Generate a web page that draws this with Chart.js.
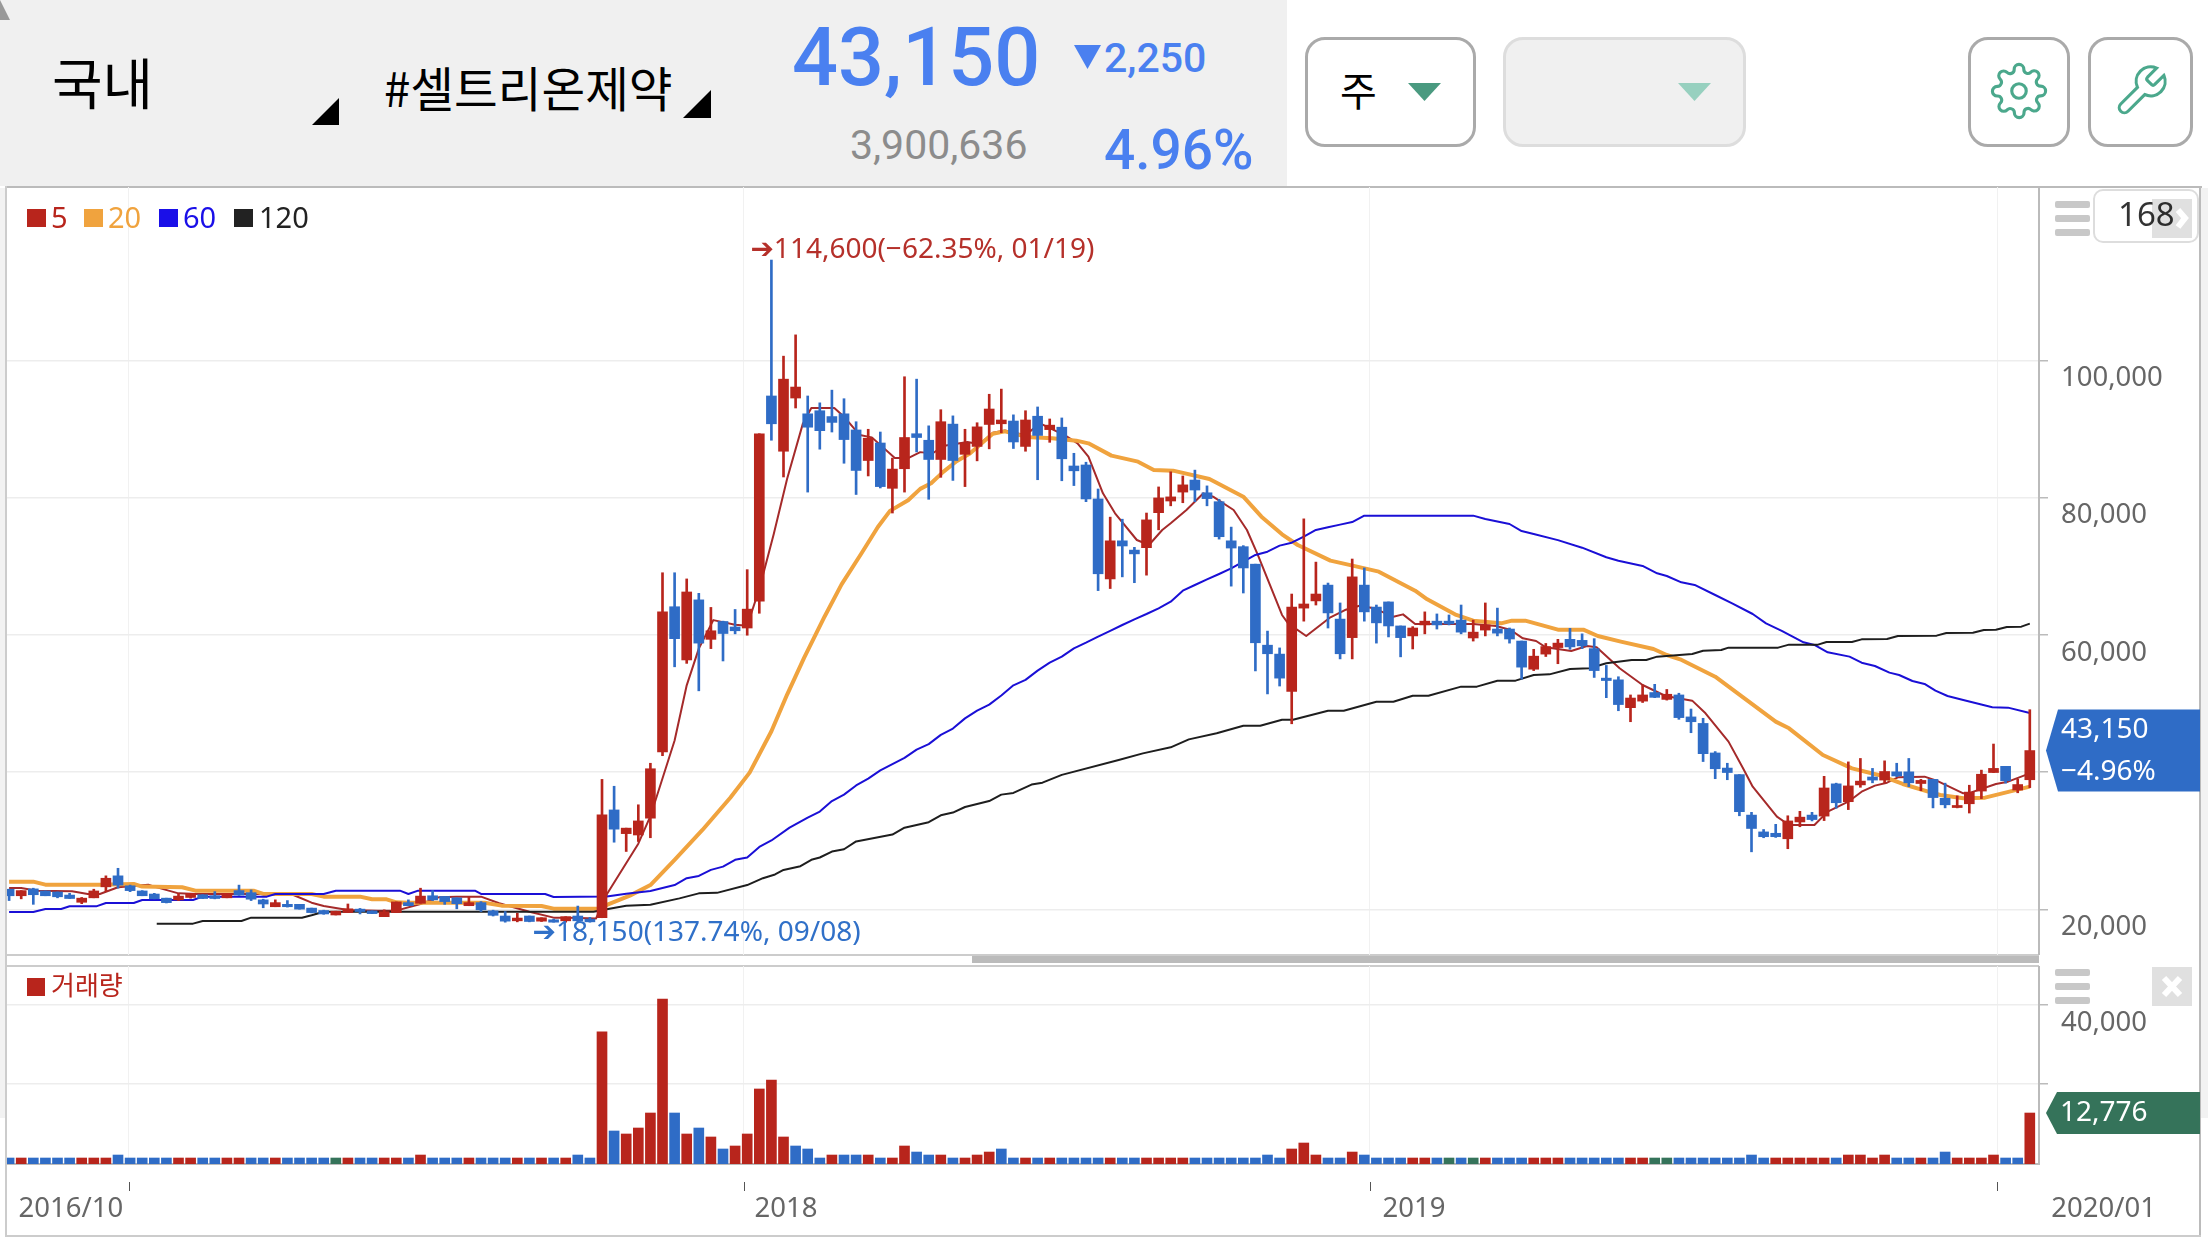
<!DOCTYPE html>
<html><head><meta charset="utf-8">
<script src="https://cdn.jsdelivr.net/npm/chart.js@4"></script>
<style>
html,body{margin:0;padding:0;width:2208px;height:1242px;overflow:hidden;background:#fff;font-family:"Noto Sans","Noto Sans CJK KR",sans-serif}
.a{position:absolute;white-space:nowrap;line-height:1}
.r{font-family:Roboto,sans-serif;color:#4a80f0;font-weight:500}
.k{font-family:"Noto Sans CJK KR",sans-serif;color:#000}
.btn{position:absolute;box-sizing:border-box;top:37px;height:110px;border:3px solid #aaa;border-radius:20px;background:#fff}
.ham{position:absolute;left:2055px;width:35px;height:7px;background:#c8c8c8;border-radius:2px}
canvas{position:absolute;display:block}
</style></head><body>
<div class="a" style="left:0;top:0;width:1287px;height:186px;background:#f0f0f0"></div>
<svg class="a" style="left:0;top:0" width="12" height="22"><polygon points="0,0 10,20 0,20" fill="#999"/></svg>
<div class="a k" style="left:52px;top:53px;font-size:55px">국내</div>
<svg class="a" style="left:312px;top:98px" width="28" height="28"><polygon points="27,0 27,27 0,27" fill="#000"/></svg>
<div class="a k" style="left:384px;top:63px;font-size:47.5px">#셀트리온제약</div>
<svg class="a" style="left:683px;top:90px" width="28" height="28"><polygon points="28,0 28,28 0,28" fill="#000"/></svg>
<div class="a r" style="left:792px;top:17px;font-size:81px">43,150</div>
<svg class="a" style="left:1074px;top:45px" width="27" height="24"><polygon points="0,0 27,0 13.5,24" fill="#4a80f0"/></svg>
<div class="a r" style="left:1104px;top:38px;font-size:41px">2,250</div>
<div class="a r" style="left:850px;top:125px;font-size:41px;color:#8c8c8c;font-weight:400">3,900,636</div>
<div class="a r" style="left:1104px;top:123px;font-size:55px">4.96%</div>
<div class="btn" style="left:1305px;width:171px"></div>
<div class="a k" style="left:1340px;top:69px;font-size:40px">주</div>
<svg class="a" style="left:1408px;top:83px" width="33" height="18"><polygon points="0,0 33,0 16.5,18" fill="#4a9a80"/></svg>
<div class="btn" style="left:1503px;width:243px;background:#f0f0f0;border-color:#ddd"></div>
<svg class="a" style="left:1678px;top:83px" width="33" height="18"><polygon points="0,0 33,0 16.5,18" fill="#97d0bf"/></svg>
<div class="btn" style="left:1968px;width:102px"></div>
<div class="btn" style="left:2088px;width:105px"></div>
<svg class="a" style="left:1990px;top:62px" width="58" height="58" viewBox="0 0 24 24" fill="none" stroke="#4ba88c" stroke-width="1.3"><circle cx="12" cy="12" r="3"/><path d="M19.4 15a1.65 1.65 0 0 0 .33 1.82l.06.06a2 2 0 0 1 0 2.83 2 2 0 0 1-2.83 0l-.06-.06a1.65 1.65 0 0 0-1.82-.33 1.65 1.65 0 0 0-1 1.51V21a2 2 0 0 1-2 2 2 2 0 0 1-2-2v-.09A1.65 1.65 0 0 0 9 19.4a1.65 1.65 0 0 0-1.82.33l-.06.06a2 2 0 0 1-2.83 0 2 2 0 0 1 0-2.83l.06-.06a1.65 1.65 0 0 0 .33-1.82 1.65 1.65 0 0 0-1.51-1H3a2 2 0 0 1-2-2 2 2 0 0 1 2-2h.09A1.65 1.65 0 0 0 4.6 9a1.65 1.65 0 0 0-.33-1.82l-.06-.06a2 2 0 0 1 0-2.83 2 2 0 0 1 2.83 0l.06.06a1.65 1.65 0 0 0 1.82.33H9a1.65 1.65 0 0 0 1-1.51V3a2 2 0 0 1 2-2 2 2 0 0 1 2 2v.09a1.65 1.65 0 0 0 1 1.51 1.65 1.65 0 0 0 1.82-.33l.06-.06a2 2 0 0 1 2.83 0 2 2 0 0 1 0 2.83l-.06.06a1.65 1.65 0 0 0-.33 1.82V9a1.65 1.65 0 0 0 1.51 1H21a2 2 0 0 1 2 2 2 2 0 0 1-2 2h-.09a1.65 1.65 0 0 0-1.51 1z"/></svg>
<svg class="a" style="left:2112px;top:62px" width="58" height="58" viewBox="0 0 24 24" fill="none" stroke="#4ba88c" stroke-width="1.3"><path d="M14.7 6.3a1 1 0 0 0 0 1.4l1.6 1.6a1 1 0 0 0 1.4 0l3.77-3.77a6 6 0 0 1-7.94 7.94l-6.91 6.91a2.12 2.12 0 0 1-3-3l6.91-6.91a6 6 0 0 1 7.94-7.94l-3.76 3.76z"/></svg>

<!-- frame -->
<div class="a" style="left:0;top:188px;width:5px;height:930px;background:#f2f2f2"></div>
<div class="a" style="left:2201px;top:188px;width:7px;height:930px;background:#f2f2f2"></div>
<div class="a" style="left:5px;top:186px;width:2197px;height:2px;background:#bbb"></div>
<div class="a" style="left:5px;top:186px;width:2px;height:1050px;background:#ccc"></div>
<div class="a" style="left:2199px;top:186px;width:2px;height:1050px;background:#bbb"></div>
<div class="a" style="left:5px;top:1235px;width:2196px;height:2px;background:#ccc"></div>
<div class="a" style="left:7px;top:954px;width:2032px;height:2px;background:#ccc"></div>
<div class="a" style="left:972px;top:956px;width:1067px;height:7px;background:#bbb"></div>
<div class="a" style="left:7px;top:965px;width:2032px;height:2px;background:#ccc"></div>

<canvas id="priceChart" width="2193" height="768" style="left:7px;top:187px;width:2193px;height:768px"></canvas>
<canvas id="volumeChart" width="2193" height="269" style="left:7px;top:966px;width:2193px;height:269px"></canvas>

<!-- panel controls -->
<div class="ham" style="top:201px"></div><div class="ham" style="top:215px"></div><div class="ham" style="top:229px"></div>
<div class="ham" style="top:969px"></div><div class="ham" style="top:983px"></div><div class="ham" style="top:997px"></div>
<div class="a" style="left:2093px;top:189px;width:106px;height:54px;box-sizing:border-box;border:2px solid #ddd;border-radius:10px"></div>
<svg class="a" style="left:2152px;top:199px" width="40" height="39"><rect width="40" height="39" fill="#e0e0e0"/><path d="M26 11 L33 19 L26 28" fill="none" stroke="#fff" stroke-width="6"/></svg>
<div class="a" style="left:2118px;top:197px;font-size:33px;color:#000;opacity:.8">168</div>
<svg class="a" style="left:2152px;top:967px" width="40" height="39"><rect width="40" height="39" fill="#e0e0e0"/><path d="M12 11 L28 28 M28 11 L12 28" stroke="#fff" stroke-width="6"/></svg>
<div id="legendPrice"></div>
<div id="legendVolume"></div>

<script>
const opens=[
22950,22000,23000,22700,22550,22100,21050,21700,23300,24900,
23450,22700,22250,21650,21400,21750,22150,22000,21700,22750,
22450,21400,20400,20750,20750,20200,19850,19200,19550,20050,
19800,18950,19550,21000,20900,22000,21900,21700,20550,21000,
19800,19050,18350,19050,18300,18500,18350,19050,18600,18800,
34500,31050,30850,33300,42950,64100,56350,65100,59350,61950,
61150,61000,64900,94800,86750,94500,92200,92650,91800,92200,
89850,85400,87950,81350,84200,89300,88350,85550,90700,86300,
87450,90650,90750,91150,87450,91850,89900,90250,84600,84750,
79800,68150,73700,72350,72700,77800,79500,80800,82550,80700,
79400,73700,72850,70300,58500,57200,51750,63900,64950,67250,
62300,59600,67250,64050,64800,61300,59850,61450,62000,62000,
62150,59550,60700,60850,60850,59100,55000,57200,58150,59350,
59200,58000,53700,53450,49400,50350,51600,50600,51250,48050,
47100,42800,40600,39650,33750,31300,31100,30300,32750,33750,
33600,38300,35700,38150,39300,38850,40050,40050,38350,38950,
36200,34850,35400,37250,39950,40850,37400,38900];
const closes=[
22000,22750,22150,22000,21850,21600,21650,22700,24550,23550,
22750,22000,21550,21000,21950,22350,21600,21600,22350,22100,
21500,20800,21000,20400,20050,19550,19350,19750,20100,19700,
19400,19700,21100,20550,21950,21400,21150,20850,21000,19950,
19150,18300,18750,18250,18800,18150,18950,18350,18200,33800,
31700,31850,32900,40500,63350,59450,66250,58800,60600,60200,
60600,63750,89300,90750,97250,96100,90250,89750,90950,88450,
83950,88650,81600,84150,88750,88750,85550,91050,85400,87950,
90300,92900,91300,88100,91300,89050,90550,85650,83900,79800,
68900,73700,72950,71800,76750,79950,80100,81850,81100,79850,
74300,72650,69750,58850,57250,53700,64050,64500,65950,63200,
57250,68450,63350,61750,61300,59600,61000,62000,61450,61600,
60400,60400,61450,60250,59400,55300,56900,58300,58800,58250,
58400,54800,53350,49850,50800,51250,50900,51350,47950,47350,
42700,40500,39950,34250,31800,30600,30600,32900,33450,33100,
37700,35550,38000,38700,38850,40100,39450,38450,38800,36300,
35250,35150,37100,39700,40550,38750,38200,43150];
const highs=[
22950,22750,23100,22700,22550,22350,21750,22950,24900,26000,
23550,22750,22350,21650,22350,22350,22150,22600,22350,23550,
22850,21500,21400,21300,20750,20200,19900,19750,20800,20150,
19800,19950,21100,21400,23100,22750,21900,21700,21850,21150,
19900,19700,19450,19050,18800,18600,18950,20500,18850,38950,
37950,31850,35250,41300,69050,69050,68150,66050,64000,62000,
63700,69500,89300,114600,100600,103700,94800,93800,95650,94400,
91050,89950,89550,85750,97600,97250,90450,92800,91900,89950,
90900,95050,95800,92050,92650,93200,91450,91600,86450,85150,
81250,77150,76850,72750,77750,81550,83750,83150,84000,81700,
79750,75700,73000,70300,60550,58100,65950,76900,70600,67550,
64650,71050,69750,64350,64800,61300,61200,63350,63050,62900,
64350,62150,64650,63900,61000,59100,57900,58750,59350,60950,
60150,59450,55550,53900,51250,52700,52800,52050,51500,49200,
47850,43000,41300,39650,34150,31650,32400,33650,34300,34150,
39400,38400,41500,42000,40550,41650,41300,42000,38950,38950,
38400,36550,38100,40300,44100,40850,39000,49100];
const lows=[
21300,21550,20750,22000,21700,21600,20850,21700,22600,23100,
22600,22000,21550,20950,21300,21650,21600,21550,21700,22050,
21300,20250,20400,20350,20050,19500,19300,19200,19550,19350,
19400,18950,19550,20550,20900,21300,20750,20100,20550,19700,
19050,18150,18200,18200,18250,18150,18150,18150,18150,18800,
29800,28450,29900,30450,42400,55350,55850,51850,58000,56200,
60150,59950,63150,88350,83000,93050,80800,87050,89550,85000,
80450,83150,81400,77750,80800,86650,79750,82950,82500,81600,
85350,87100,89450,87150,86750,82600,88050,82450,81750,79400,
66450,66750,68450,67600,68700,75300,78800,79250,79400,78800,
73950,67100,66100,54750,51400,52550,47050,62000,64350,61000,
56500,56500,62000,58800,59700,56800,57950,60150,60850,61450,
60150,59100,59850,59850,58800,53550,54800,56850,55800,57900,
58000,53800,50850,48950,47350,50150,50850,50500,47700,45750,
41550,39050,38900,33650,28400,30450,30500,28850,32050,32900,
32950,34750,34550,37800,38450,38450,39350,37900,37300,34800,
34800,34800,34050,36150,39950,38400,37000,37750];
const volumes=[
1500,1500,1500,1500,1500,1500,1500,1500,1500,2250,
1500,1500,1500,1500,1500,1500,1500,1500,1500,1500,
1500,1500,1500,1500,1500,1500,1500,1500,1500,1500,
1500,1500,1500,1500,2250,1500,1500,1500,1500,1500,
1500,1500,1500,1500,1500,1500,1500,2250,1500,33100,
8270,7520,9020,12780,41350,12780,7520,9020,6770,3760,
4510,7520,18800,21050,6770,4510,3760,1500,2250,2250,
2250,2250,1500,1500,4510,3000,2250,2250,1500,1500,
2250,3000,3760,1500,1500,1500,1500,1500,1500,1500,
1500,1500,1500,1500,1500,1500,1500,1500,1500,1500,
1500,1500,1500,1500,2250,1500,3760,5260,2250,1500,
1500,3000,2250,1500,1500,1500,1500,1500,1500,1500,
1500,1500,1500,1500,1500,1500,1500,1500,1500,1500,
1500,1500,1500,1500,1500,1500,1500,1500,1500,1500,
1500,1500,1500,1500,2250,1500,1500,1500,1500,1500,
1500,1500,2250,2250,1500,2250,1500,1500,1500,1500,
3000,1500,1500,1500,2250,1500,1500,12776];
const volumeSides=("brbbbbrrrb"+"bbbbrrbbrr"+"bbrbbbbgrb"+"brrbrbbbrb"+"bbrbrbrbbr"+"brrrrbrbrb"+
"rrrrrbbbrb"+"brbrrbbrbr"+"rrbbrbrbbb"+"brbbrrrrbb"+"bbbbbbrrrb"+"brbbbbrrbg"+"bgrbbbrrrb"+
"bbbbrrggbb"+"bbbbbbrrrr"+"rbrrrrbbrb"+"brrrrbbr").split("");

const ma5Idx=[0,1,2.3,5.2,6.5,7.5,9,11.5,12,14,15.5,18.5,22.8,23.5,25,26,28,30.5,32,34,35.5,37,39,40.5,43,45,46.3,48.5,49.4,52,53,55,56,57,58.2,60,61,62,63.2,64.3,65.6,66.3,68.2,69,70.3,71.3,73.2,74.3,75.3,76.3,77.3,79.2,80.2,81.3,82.3,84,85.2,87.3,88.3,89.2,90.4,91.4,93.2,94.2,95.3,96,97.3,98.7,99.5,101.2,102.3,103.2,104.2,105.2,105.7,107.2,109.2,110.4,111.6,112.8,114.4,115.2,116.2,121,122.9,124.1,125.1,126.2,127,129.1,130.4,131.2,133.1,135,136.9,139.1,140.2,142.1,143.3,144.1,146.1,147.1,149.2,150.3,152,153.1,154.2,155.2,156.1,158.3,159.3,161.5,162.1,164.2,165.2,167];
const ma5Val=[23130,23130,22740,22650,22260,22260,23230,23620,23330,22350,22260,22260,22260,22110,20990,20510,19930,19830,19830,20800,21770,21870,21870,20900,19680,18810,18810,18680,22220,29580,33590,44620,52650,58000,62150,61480,61340,66690,74720,82750,90770,93050,93050,91780,89100,88770,85750,85750,86620,86420,87560,88100,87760,89440,89770,89100,90820,89020,87900,85960,80620,77710,73820,73090,75280,76250,78190,80620,80130,78190,75280,71640,67270,62900,61680,59840,62560,63620,64250,63870,62650,62990,61580,61580,61290,60710,59500,59110,58190,57650,58380,58190,55130,52700,51100,50420,48570,44450,40560,37890,33520,32300,32300,34250,35700,37160,38040,38470,39250,39350,38760,36920,37020,38280,38620,39830];
const ma20Idx=[0,2,3,7.5,10.3,11,14.3,15.4,20.2,21,25,26,29,30,31.2,32,33,38.3,39.3,40.7,44,45,49,49.4,51.3,53,55,57.3,59.6,61.2,63,64.3,65.7,67.4,68.8,70.5,71.8,72.8,74.3,75.3,76.2,77.2,78.3,79.4,80.5,81.3,82.3,83.5,84.5,86.2,88.2,89.2,91.1,93.3,94.6,96.2,99.2,102,103.5,105.2,106.5,109.2,111.4,113.2,116.2,117.2,119.6,121,123.3,124.2,125.3,128,130.1,131.3,133.2,135.9,137,138.1,141,146,147.1,149.9,152.3,154.5,156.5,158.6,159.6,161.5,163.3,167];
const ma20Val=[24050,24050,23620,23620,23710,23330,23230,22740,22740,22260,22260,21870,21870,21480,21480,21040,20990,20990,20990,20560,20510,20120,20120,20680,22020,23560,27240,31580,36270,39940,45960,51310,56660,62680,67360,72040,75720,78060,79600,81270,82080,83750,85290,86420,88100,89300,89640,89100,88770,88630,88290,87900,86110,85230,84020,83920,82710,80130,77220,74650,73090,70810,69940,69210,66440,65180,62900,62070,61680,62070,62070,60760,60760,59840,59010,57940,57070,56440,53910,47360,46390,42500,40560,39590,38280,37160,36680,36190,36290,37890];
const ma60Idx=[0,2,3,4.3,5,7.2,8,10.3,11,15.2,16,21.3,22,26,27,32.3,33,33.8,38.5,39,44.3,45,49.4,51,53,55,56,57,58,59,60,61,62,63,64.5,66,67,68,69,70,71,72,74,75,76,77,78,79,80,81,82,83,84,85,86,87,88,89,90,91,92,93,94,95,96,97,98,99,100,101,102,103,104,105,106,107,108,109,110,111,112,121,122,124,125,126,128,130,132,133,135,136.2,137,138.2,139.3,141,142.4,144.1,145.2,146.5,148.3,149.2,150.3,152.1,153.1,154.2,155.4,156.2,157.3,158.3,159.2,160.2,161.5,163.9,165.2,167];
const ma60Val=[19640,19640,20070,20070,20460,20460,20950,20950,21380,21380,21870,21870,22260,22260,22740,22740,22260,22740,22740,22260,22260,21820,21890,22290,22690,23560,24560,24890,25770,26240,27240,27570,29110,30050,31920,33390,34260,35800,36730,38070,39070,40270,42080,43290,44090,45430,46360,47840,48970,49840,51180,52650,53450,54790,55950,56830,58040,58860,59740,60570,61440,62270,63040,63870,64840,66440,67270,68090,68870,69690,70660,71640,72120,73000,73430,74310,75280,75670,76060,76440,77370,77370,76880,76150,75130,74700,73800,72700,71300,70810,70040,68970,68580,67660,67270,65810,64600,63040,61680,60570,58920,58530,57460,56830,55950,55470,54500,54160,53280,52850,51870,51100,50520,49450,49400,48620];
const ma120Idx=[12.2,15.2,16,19.2,20,24.2,25,26,48.3,49.5,51,53,55.4,57,58.5,61,62.3,63.3,64,65.4,66.3,67,68,69,70,73,74,76,77,78,79,81,82,83,84.5,85.4,87,91.7,93.7,96,97.5,99.8,102,103.4,105.2,106.1,109,110.3,113,114.4,116,117.3,120,121.3,123,124.5,126,127.3,129,130.6,132,134.1,135.3,136.2,139.1,140,141.5,142.1,146.2,147.1,149.5,150.2,152.3,153.1,155.2,156.1,159.3,160.1,162.3,163.2,164.2,165.1,166.3,167];
const ma120Val=[17940,17940,18320,18320,18810,18810,19150,19680,19680,20080,20550,20680,21620,22350,22420,23560,24560,25100,25760,26300,27240,27570,28440,28770,29910,30920,31920,32720,33720,34120,34930,35800,36730,36980,38200,38470,39610,41770,42740,43620,44780,45660,46770,46770,47650,47650,48960,48960,50270,50270,51140,51140,52460,52460,53330,53330,54160,54250,55030,55130,55860,56340,56340,56830,57220,57700,57800,58140,58140,58580,58580,58960,58960,59350,59400,59840,59890,60280,60320,60710,60760,61150,61200,61640];

const maLabels=["5","20","60","120"];
const maColors=["#a52a2a","#f0a33e","#1a0fd6","#1e1e1e"];
const legendColors=["#b8251c","#f0a33e","#1a0fe8","#222222"];
const priceTicks=[20000,40000,60000,80000,100000];
const priceTickLabels=["20,000","","60,000","80,000","100,000"];
const volumeTicks=[20000,40000];
const volumeTickLabels=["","40,000"];
const timeTickIdx=[9.87,60.7,112.46,164.3];
const timeLabelIdx=[5.1,64.2,116.1,173.1];
const timeLabels=["2016/10","2018","2019","2020/01"];
const highNote="➔114,600(−62.35%, 01/19)";
const lowNote="➔18,150(137.74%, 09/08)";
const lastPriceLabels=["43,150","−4.96%"];
const lastVolumeLabel="12,776";
const volumeLegendLabel="거래량";

const RED="#b8251c",BLUE="#2f6cc6",GREEN="#35735a";
const FONT='"Noto Sans","DejaVu Sans","Noto Sans CJK KR",sans-serif';
const xRange={min:-0.174,max:167.76};
const idx=opens.map((_,i)=>i);
const candleColors=idx.map(i=>closes[i]>=opens[i]?RED:BLUE);
const sideColor={r:RED,b:BLUE,g:GREEN};
const pts=(xs,ys)=>xs.map((x,i)=>({x,y:ys[i]}));
const noPad=s=>{s.paddingLeft=s.paddingRight=s.paddingTop=s.paddingBottom=0;};

function maSet(i,xs,ys,w){return {type:"line",label:maLabels[i],data:pts(xs,ys),borderColor:maColors[i],borderWidth:w,
  pointRadius:0,tension:0,fill:false,order:10-i,borderJoinStyle:"round"};}

function drawTag(ctx,tipX,tipY,left,right,up,down,color){
  ctx.fillStyle=color;ctx.beginPath();ctx.moveTo(tipX,tipY);ctx.lineTo(left,tipY-up);ctx.lineTo(right,tipY-up);
  ctx.lineTo(right,tipY+down);ctx.lineTo(left,tipY+down);ctx.closePath();ctx.fill();
}

const pricePlugin={id:"priceNotes",afterDraw(chart){
  const {ctx,scales:{x,y}}=chart;ctx.save();
  const iHi=highs.indexOf(Math.max(...highs)),iLo=45;
  ctx.textBaseline="middle";ctx.textAlign="left";ctx.font="28px "+FONT;
  ctx.fillStyle="#b5302a";ctx.fillText(highNote,x.getPixelForValue(iHi)-21,y.getPixelForValue(highs[iHi])-10);
  ctx.fillStyle="#3070c8";ctx.fillText(lowNote,x.getPixelForValue(iLo)-21,y.getPixelForValue(lows[iLo])+11);
  const tip=y.getPixelForValue(closes[closes.length-1]);
  drawTag(ctx,2039,tip,2051,2193,41,41,BLUE);
  ctx.fillStyle="#fff";ctx.fillText(lastPriceLabels[0],2054,tip-21);ctx.fillText(lastPriceLabels[1],2054,tip+21);
  ctx.restore();
}};
const volumePlugin={id:"volumeNotes",afterDraw(chart){
  const {ctx,scales:{x,y},chartArea:a}=chart;ctx.save();
  ctx.strokeStyle="#555";ctx.lineWidth=1;
  timeTickIdx.forEach(t=>{const p=Math.round(x.getPixelForValue(t))+.5;ctx.beginPath();ctx.moveTo(p,a.bottom+18);ctx.lineTo(p,a.bottom+27);ctx.stroke();});
  const tip=y.getPixelForValue(volumes[volumes.length-1]);
  drawTag(ctx,2039,tip,2050,2193,21,21,GREEN);
  ctx.fillStyle="#fff";ctx.font="28px "+FONT;ctx.textBaseline="middle";ctx.textAlign="left";ctx.fillText(lastVolumeLabel,2053,tip);
  ctx.restore();
}};

const baseOpts={responsive:false,animation:false,devicePixelRatio:1,events:[],layout:{padding:0},
  plugins:{legend:{display:false},tooltip:{enabled:false}}};

new Chart(document.getElementById("priceChart"),{type:"bar",data:{datasets:[
  {label:"wick",data:idx.map(i=>({x:i,y:[lows[i],highs[i]]})),backgroundColor:candleColors,barThickness:2,grouped:false,borderSkipped:false,order:2},
  {label:"body",data:idx.map(i=>({x:i,y:[opens[i],closes[i]]})),backgroundColor:candleColors,barThickness:10,grouped:false,borderSkipped:false,order:1},
  maSet(0,ma5Idx,ma5Val,2),maSet(1,ma20Idx,ma20Val,4),maSet(2,ma60Idx,ma60Val,2),maSet(3,ma120Idx,ma120Val,2)
]},plugins:[pricePlugin],options:{...baseOpts,scales:{
  x:{type:"linear",offset:false,...xRange,
    afterBuildTicks(s){s.ticks=timeTickIdx.map(value=>({value}));},
    afterFit(s){s.height=0;noPad(s);},
    ticks:{display:false},border:{display:false},grid:{color:"#f1f1f1",lineWidth:1,drawTicks:false,offset:false}},
  y:{position:"right",min:13370,max:125240,
    afterBuildTicks(s){s.ticks=priceTicks.map(value=>({value}));},
    afterFit(s){s.width=161;noPad(s);},
    ticks:{color:"#666",font:{family:FONT,size:27.5},padding:13,labelOffset:18,autoSkip:false,callback:(v,i)=>priceTickLabels[i]},
    border:{color:"#bbb",width:2},grid:{color:"#ededed",lineWidth:1.5,tickLength:9,tickColor:"#bbb",tickWidth:1.5}}
}}});

new Chart(document.getElementById("volumeChart"),{type:"bar",data:{datasets:[
  {label:volumeLegendLabel,data:idx.map(i=>({x:i,y:volumes[i]})),backgroundColor:volumeSides.map(s=>sideColor[s]),barThickness:10,grouped:false,borderSkipped:false}
]},plugins:[volumePlugin],options:{...baseOpts,scales:{
  x:{type:"linear",offset:false,...xRange,
    afterBuildTicks(s){s.ticks=timeTickIdx.map(value=>({value}));},
    afterFit(s){s.height=0;noPad(s);},
    ticks:{display:false},border:{display:true,color:"#bbb",width:2},grid:{color:"#f1f1f1",lineWidth:1,drawTicks:false,offset:false}},
  timeLabels:{type:"linear",axis:"x",position:"bottom",offset:false,...xRange,
    afterBuildTicks(s){s.ticks=timeLabelIdx.map(value=>({value}));},
    afterFit(s){s.height=71;noPad(s);},
    ticks:{color:"#666",font:{family:FONT,size:27.5},padding:29,autoSkip:false,maxRotation:0,callback:(v,i)=>timeLabels[i]},
    border:{display:false},grid:{display:false,drawTicks:false}},
  y:{position:"right",min:0,max:49620,
    afterBuildTicks(s){s.ticks=volumeTicks.map(value=>({value}));},
    afterFit(s){s.width=161;noPad(s);},
    ticks:{color:"#666",font:{family:FONT,size:27.5},padding:13,labelOffset:19,autoSkip:false,callback:(v,i)=>volumeTickLabels[i]},
    border:{color:"#bbb",width:2},grid:{color:"#ededed",lineWidth:1.5,tickLength:9,tickColor:"#bbb",tickWidth:1.5}}
}}});

// legends, built from the same label and colour lists
const legendBoxLeft=[27,84,159,234],legendTextLeft=[51,108,183,259];
document.getElementById("legendPrice").innerHTML=maLabels.map((t,i)=>
 `<div class="a" style="left:${legendBoxLeft[i]}px;top:209px;width:19px;height:18px;background:${legendColors[i]}"></div>`+
 `<div class="a" style="left:${legendTextLeft[i]}px;top:202px;font-size:29px;color:${legendColors[i]}">${t}</div>`).join("");
document.getElementById("legendVolume").innerHTML=
 `<div class="a" style="left:27px;top:978px;width:18px;height:18px;background:${RED}"></div>`+
 `<div class="a k" style="left:51px;top:971px;font-size:26px;color:${RED}">${volumeLegendLabel}</div>`;
</script>
</body></html>
